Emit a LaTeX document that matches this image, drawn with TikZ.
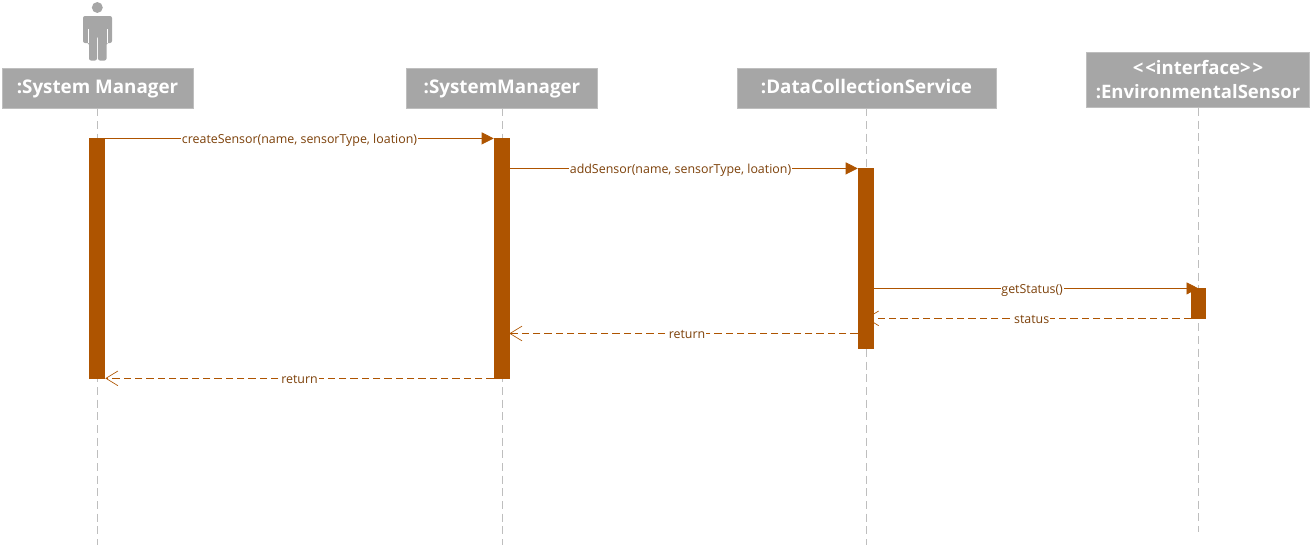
\documentclass[tikz,border=0pt]{standalone}
\usepackage{fontspec}
\setmainfont{Open Sans}
\usetikzlibrary{arrows.meta}
\definecolor{headgray}{RGB}{166,166,166}
\definecolor{lifegray}{RGB}{190,190,190}
\definecolor{barbrown}{RGB}{174,84,0}
\definecolor{textbrown}{RGB}{125,65,10}
\tikzset{
head/.style={fill=headgray, draw=lifegray, line width=0.5pt, text=white, font=\fontsize{14.1}{18}\selectfont\bfseries, inner sep=0pt, minimum width=#1, anchor=center},
lifeline/.style={lifegray, line width=0.75pt, dash pattern=on 6pt off 3.5pt},
activation/.style={fill=barbrown, draw=none, inner sep=0pt, minimum width=12pt, anchor=north},
syncmsg/.style={barbrown, line width=0.6pt, -{Triangle[length=9pt,width=9pt]}},
replymsg/.style={barbrown, line width=0.75pt, dash pattern=on 5.5pt off 3pt, -{Straight Barb[length=9pt,width=11pt,line width=0.5pt]}},
msglabel/.style={fill=white, text=textbrown, font=\fontsize{9.3}{11}\selectfont, inner sep=0.6pt, text height=8.5pt, text depth=1pt, midway}
}
\begin{document}
\begin{tikzpicture}[x=0.75pt,y=-0.75pt]
\useasboundingbox (0,0) rectangle (1312,547);
% lifelines
\coordinate (endA) at (97.5,545);
\coordinate (endB) at (502,545);
\coordinate (endC) at (866.5,545);
\coordinate (endD) at (1198,532);
\node[head=143pt, minimum height=30pt, text height=11pt, text depth=3pt] (headA) at (97.5,88) {:System Manager};
\node[head=143pt, minimum height=30pt, text height=11pt, text depth=3pt] (headB) at (502,88) {:SystemManager};
\node[head=194pt, minimum height=30pt, text height=11pt, text depth=3pt] (headC) at (866.5,88) {:DataCollectionService};
\node[head=167pt, minimum height=41.5pt, align=center, font=\fontsize{13.9}{18}\selectfont\bfseries] (headD) at (1198,80) {<\kern1.5pt<interface>\kern1.5pt>\\:EnvironmentalSensor};
\draw[lifeline] (headA.south) -- (endA);
\draw[lifeline] (headB.south) -- (endB);
\draw[lifeline] (headC.south) -- (endC);
\draw[lifeline] (headD.south) -- (endD);
% actor
\fill[headgray] (97.3,7.5) circle (4.1pt);
\fill[headgray,rounded corners=1.5pt] (83,16)--(112,16)--(112,43)--(106.5,43)--(106.5,60.5)--(98,60.5)--(98,36)--(97,36)--(97,60.5)--(89,60.5)--(89,43)--(83,43)--cycle;
\draw[white,line width=0.4pt] (88.7,29)--(88.7,43) (106.8,29)--(106.8,43);
% activations
\node[activation, minimum height=180.75pt] (barA) at (97,138) {};
\node[activation, minimum height=180.75pt] (barB) at (502,138) {};
\node[activation, minimum height=135.75pt] (barC) at (866,168) {};
\node[activation, minimum width=11pt, minimum height=23.25pt] (barD) at (1198.5,288) {};
% messages
\draw[syncmsg] ([yshift=-0.3pt]barA.north east) -- node[msglabel] {createSensor(name, sensorType, loation)} ([yshift=-0.3pt]barB.north west);
\draw[syncmsg] ([yshift=-0.3pt]barB.east |- barC.north) -- node[msglabel, pos=0.49] {addSensor(name, sensorType, loation)} ([yshift=-0.3pt]barC.north west);
\draw[syncmsg] ([yshift=-0.3pt]barC.east |- barD.north) -- node[msglabel, pos=0.487] {getStatus()} ([yshift=-0.3pt]barD.north);
\draw[replymsg] ([yshift=0.9pt]barD.south west) -- node[msglabel, pos=0.49] {status} ([yshift=0.9pt]barC.center |- barD.south);
\coordinate (retC) at (866,333.5);
\draw[replymsg] (barC.west |- retC) -- node[msglabel, pos=0.49] {return} ([xshift=-0.7pt]barB.east |- retC);
\draw[replymsg] ([yshift=0.9pt]barB.south west) -- node[msglabel] {return} ([yshift=0.9pt]barA.south east);
\end{tikzpicture}
\end{document}
